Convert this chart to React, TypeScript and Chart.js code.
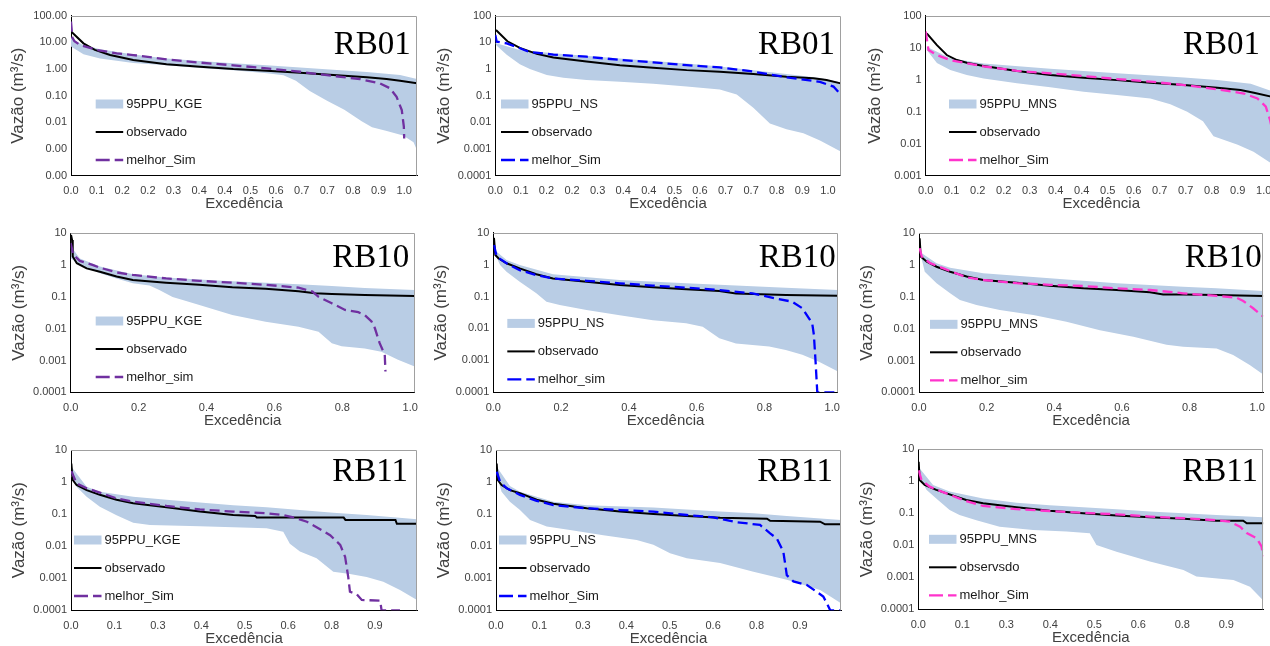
import React, { useEffect, useRef } from 'react';
import { Chart, registerables } from 'chart.js';

Chart.register(...registerables);
Chart.defaults.font.family = '"Liberation Sans", Arial, sans-serif';

type P = [number, number];

// ---------------- RB01 ----------------
const rb01KgeObs: P[] = [[0.001,25],[0.036,9.2],[0.069,5.2],[0.113,3.35],[0.18,2.2],[0.276,1.5],[0.373,1.23],[0.469,1.0],[0.566,0.87],[0.662,0.73],[0.758,0.6],[0.855,0.49],[0.912,0.42],[0.951,0.36],[1.0,0.29]];
const rb01KgeSim: P[] = [[0,60],[0.004,15],[0.01,11],[0.026,8],[0.074,5.2],[0.132,3.9],[0.18,3.35],[0.276,2.3],[0.373,1.74],[0.469,1.38],[0.566,1.06],[0.662,0.79],[0.758,0.55],[0.835,0.42],[0.893,0.29],[0.922,0.19],[0.941,0.09],[0.956,0.029],[0.962,0.0069],[0.963,0.0025]];
const rb01KgeUp: P[] = [[0,15],[0.03,8.5],[0.084,5.5],[0.18,3.5],[0.276,2.5],[0.373,2.0],[0.469,1.65],[0.566,1.4],[0.662,1.15],[0.758,0.95],[0.855,0.78],[0.951,0.6],[1.0,0.42]];
const rb01KgeLo: P[] = [[0,7],[0.036,3.6],[0.084,2.5],[0.18,1.7],[0.276,1.4],[0.373,1.1],[0.469,0.9],[0.566,0.69],[0.614,0.58],[0.65,0.36],[0.69,0.15],[0.74,0.065],[0.79,0.03],[0.84,0.011],[0.87,0.0065],[0.91,0.0048],[0.96,0.0032],[0.99,0.0018],[1.0,0.0009]];

const rb01NsObs: P[] = [[0.002,29],[0.035,11],[0.071,6.2],[0.12,3.7],[0.168,2.7],[0.264,1.9],[0.361,1.4],[0.457,1.12],[0.554,0.91],[0.65,0.79],[0.747,0.65],[0.843,0.51],[0.921,0.45],[0.959,0.39],[1.0,0.29]];
const rb01NsSim: P[] = [[0,19],[0.004,10.6],[0.033,9.2],[0.071,6],[0.1,4.3],[0.168,3.5],[0.264,2.9],[0.361,2.2],[0.457,1.78],[0.554,1.4],[0.65,1.15],[0.747,0.8],[0.843,0.49],[0.94,0.33],[0.979,0.22],[1.0,0.11]];
const rb01NsUp: P[] = [[0,9.5],[0.071,5.2],[0.168,3.9],[0.361,2.5],[0.554,1.6],[0.65,1.25],[0.747,0.9],[0.843,0.65],[0.94,0.46],[1.0,0.31]];
const rb01NsLo: P[] = [[0.002,7.9],[0.033,3.4],[0.071,1.5],[0.1,1.0],[0.149,0.6],[0.197,0.47],[0.264,0.39],[0.361,0.33],[0.457,0.28],[0.554,0.22],[0.65,0.17],[0.699,0.11],[0.747,0.035],[0.795,0.009],[0.843,0.0055],[0.892,0.0039],[0.94,0.0021],[1.0,0.0008]];

const rb01MnsObs: P[] = [[0.003,28],[0.032,12],[0.06,5.9],[0.089,4.1],[0.117,3.4],[0.165,2.7],[0.26,1.87],[0.355,1.4],[0.45,1.15],[0.545,0.97],[0.64,0.81],[0.736,0.68],[0.831,0.56],[0.897,0.48],[0.935,0.39],[1.0,0.27]];
const rb01MnsSim: P[] = [[0,32],[0.008,8.5],[0.032,5.9],[0.07,4.1],[0.165,2.6],[0.26,1.9],[0.355,1.58],[0.45,1.3],[0.545,1.05],[0.64,0.87],[0.736,0.68],[0.831,0.5],[0.907,0.37],[0.945,0.26],[0.969,0.144],[0.981,0.055],[0.99,0.02]];
const rb01MnsUp: P[] = [[0.003,10.8],[0.07,4.7],[0.165,3.2],[0.355,2.2],[0.545,1.58],[0.736,1.17],[0.831,0.97],[0.926,0.75],[0.983,0.45],[1.0,0.42]];
const rb01MnsLo: P[] = [[0.003,8.5],[0.032,3.3],[0.07,2.0],[0.117,1.4],[0.165,1.1],[0.26,0.77],[0.355,0.58],[0.45,0.42],[0.545,0.33],[0.64,0.26],[0.697,0.17],[0.745,0.1],[0.79,0.05],[0.82,0.017],[0.889,0.0092],[0.934,0.0056],[0.983,0.0025],[1.0,0.0015]];

// ---------------- RB10 ----------------
const rb10KgeObs: P[] = [[0.001,8.9],[0.004,6.2],[0.006,1.86],[0.018,1.15],[0.047,0.79],[0.086,0.62],[0.135,0.44],[0.183,0.34],[0.281,0.28],[0.379,0.24],[0.476,0.2],[0.574,0.18],[0.671,0.15],[0.72,0.13],[0.769,0.123],[0.866,0.114],[1.013,0.107]];
const rb10KgeSim: P[] = [[0,4.9],[0.008,2.1],[0.027,1.35],[0.066,1.0],[0.086,0.83],[0.135,0.59],[0.183,0.49],[0.281,0.38],[0.379,0.32],[0.476,0.28],[0.574,0.24],[0.671,0.195],[0.712,0.147],[0.73,0.1],[0.769,0.063],[0.808,0.039],[0.847,0.033],[0.866,0.027],[0.886,0.017],[0.896,0.0103],[0.91,0.0035],[0.925,0.0015],[0.927,0.00045]];
const rb10KgeUp: P[] = [[0,4],[0.027,1.6],[0.086,0.9],[0.183,0.52],[0.281,0.41],[0.379,0.35],[0.476,0.31],[0.574,0.28],[0.671,0.25],[0.769,0.22],[0.866,0.19],[1.013,0.165]];
const rb10KgeLo: P[] = [[0.001,1.6],[0.027,1.0],[0.086,0.55],[0.135,0.38],[0.183,0.27],[0.232,0.23],[0.261,0.166],[0.3,0.1],[0.33,0.08],[0.379,0.056],[0.476,0.027],[0.574,0.0166],[0.671,0.0116],[0.73,0.008],[0.769,0.0035],[0.798,0.0028],[0.866,0.0024],[0.915,0.0019],[0.964,0.00105],[1.013,0.00065]];

const rb10NsObs: P[] = [[0.002,6.9],[0.006,2.0],[0.015,1.58],[0.039,1.1],[0.078,0.76],[0.127,0.5],[0.176,0.37],[0.275,0.29],[0.373,0.23],[0.471,0.194],[0.569,0.168],[0.667,0.148],[0.716,0.125],[0.765,0.12],[0.863,0.112],[1.017,0.105]];
const rb10NsSim: P[] = [[0.002,4.1],[0.01,1.78],[0.039,1.1],[0.078,0.67],[0.127,0.47],[0.176,0.37],[0.275,0.31],[0.373,0.26],[0.471,0.22],[0.569,0.19],[0.667,0.16],[0.765,0.126],[0.833,0.087],[0.882,0.069],[0.912,0.043],[0.931,0.021],[0.941,0.0146],[0.946,0.0063],[0.951,0.0009],[0.956,0.0001],[1.017,0.0001]];
const rb10NsUp: P[] = [[0.002,3],[0.039,1.4],[0.078,0.97],[0.176,0.5],[0.373,0.33],[0.569,0.26],[0.765,0.21],[0.863,0.19],[1.017,0.16]];
const rb10NsLo: P[] = [[0.002,2.5],[0.02,0.98],[0.039,0.6],[0.078,0.29],[0.127,0.126],[0.157,0.069],[0.196,0.054],[0.275,0.038],[0.373,0.026],[0.471,0.018],[0.569,0.0145],[0.618,0.0114],[0.667,0.0049],[0.716,0.0034],[0.814,0.0027],[0.863,0.0021],[0.912,0.0015],[0.961,0.0009],[1.017,0.00045]];

const rb10MnsObs: P[] = [[0.002,6.9],[0.005,1.86],[0.023,1.28],[0.052,0.89],[0.092,0.62],[0.141,0.44],[0.19,0.34],[0.289,0.28],[0.387,0.226],[0.486,0.186],[0.584,0.165],[0.683,0.14],[0.722,0.12],[0.781,0.12],[0.88,0.114],[1.018,0.107]];
const rb10MnsSim: P[] = [[0.002,3.4],[0.008,1.86],[0.033,1.15],[0.072,0.79],[0.141,0.41],[0.19,0.34],[0.289,0.27],[0.387,0.24],[0.486,0.22],[0.584,0.186],[0.683,0.165],[0.781,0.13],[0.88,0.107],[0.939,0.095],[0.959,0.074],[0.988,0.044],[1.018,0.024]];
const rb10MnsUp: P[] = [[0.005,2.5],[0.052,1.15],[0.092,0.83],[0.19,0.55],[0.387,0.385],[0.584,0.27],[0.781,0.21],[0.88,0.186],[1.018,0.153]];
const rb10MnsLo: P[] = [[0.005,2.1],[0.017,0.62],[0.052,0.27],[0.092,0.13],[0.121,0.08],[0.17,0.056],[0.239,0.039],[0.338,0.027],[0.436,0.0166],[0.535,0.009],[0.634,0.0056],[0.732,0.0031],[0.781,0.0027],[0.88,0.0024],[0.929,0.0015],[0.978,0.00072],[1.018,0.00036]];

// ---------------- RB11 ----------------
const rb11KgeObs: P[] = [[0.001,3.8],[0.005,1.16],[0.016,0.81],[0.045,0.56],[0.083,0.4],[0.131,0.28],[0.179,0.22],[0.275,0.163],[0.371,0.12],[0.467,0.094],[0.53,0.088],[0.535,0.078],[0.785,0.078],[0.79,0.066],[0.934,0.066],[0.938,0.05],[0.996,0.05]];
const rb11KgeSim: P[] = [[0.001,2.2],[0.016,0.91],[0.045,0.64],[0.083,0.47],[0.131,0.31],[0.179,0.245],[0.275,0.18],[0.371,0.14],[0.467,0.12],[0.563,0.106],[0.611,0.093],[0.64,0.079],[0.679,0.058],[0.717,0.034],[0.746,0.022],[0.775,0.011],[0.789,0.0047],[0.798,0.0011],[0.803,0.00038],[0.822,0.00032],[0.837,0.00021],[0.89,0.0002],[0.894,0.0001],[0.947,0.0001]];
const rb11KgeUp: P[] = [[0.001,3],[0.045,0.72],[0.083,0.5],[0.179,0.35],[0.275,0.28],[0.371,0.23],[0.467,0.19],[0.563,0.163],[0.659,0.135],[0.755,0.11],[0.851,0.094],[0.996,0.069]];
const rb11KgeLo: P[] = [[0.001,1.48],[0.016,0.72],[0.045,0.35],[0.083,0.17],[0.131,0.093],[0.179,0.054],[0.227,0.046],[0.371,0.042],[0.563,0.036],[0.611,0.028],[0.63,0.012],[0.659,0.0068],[0.707,0.0042],[0.755,0.0016],[0.803,0.00135],[0.851,0.0011],[0.899,0.00078],[0.947,0.00043],[0.996,0.00021]];

const rb11NsObs: P[] = [[0.002,3.8],[0.005,1.16],[0.016,0.81],[0.04,0.56],[0.069,0.45],[0.117,0.28],[0.165,0.21],[0.261,0.152],[0.357,0.12],[0.453,0.1],[0.549,0.087],[0.645,0.077],[0.78,0.072],[0.789,0.062],[0.933,0.058],[0.947,0.048],[0.993,0.048]];
const rb11NsSim: P[] = [[0.002,2.1],[0.012,1.0],[0.031,0.64],[0.069,0.4],[0.117,0.26],[0.165,0.19],[0.261,0.152],[0.357,0.134],[0.453,0.12],[0.549,0.094],[0.626,0.079],[0.693,0.056],[0.76,0.046],[0.789,0.025],[0.808,0.0176],[0.827,0.0068],[0.837,0.00125],[0.856,0.0008],[0.894,0.00062],[0.923,0.00038],[0.942,0.00027],[0.952,0.000166],[0.962,0.0001],[0.993,0.0001]];
const rb11NsUp: P[] = [[0.002,3],[0.04,0.75],[0.069,0.5],[0.165,0.245],[0.261,0.19],[0.453,0.16],[0.645,0.12],[0.741,0.106],[0.837,0.088],[0.993,0.066]];
const rb11NsLo: P[] = [[0.002,1.66],[0.016,0.5],[0.04,0.245],[0.069,0.134],[0.098,0.066],[0.146,0.041],[0.213,0.032],[0.309,0.022],[0.405,0.0155],[0.453,0.011],[0.501,0.006],[0.549,0.0042],[0.645,0.003],[0.741,0.0016],[0.837,0.0009],[0.933,0.00043],[0.993,0.000166]];

const rb11MnsObs: P[] = [[0.001,4.1],[0.004,1.1],[0.018,0.77],[0.051,0.54],[0.089,0.39],[0.136,0.26],[0.184,0.205],[0.279,0.155],[0.373,0.12],[0.468,0.1],[0.563,0.085],[0.658,0.075],[0.753,0.068],[0.847,0.059],[0.923,0.059],[0.933,0.049],[0.98,0.049]];
const rb11MnsSim: P[] = [[0.001,2.2],[0.009,1.1],[0.032,0.68],[0.07,0.46],[0.136,0.24],[0.184,0.17],[0.279,0.135],[0.373,0.118],[0.468,0.104],[0.563,0.093],[0.658,0.079],[0.753,0.07],[0.847,0.061],[0.885,0.055],[0.914,0.038],[0.933,0.024],[0.961,0.0166],[0.975,0.0092],[0.98,0.0045]];
const rb11MnsUp: P[] = [[0.004,2.5],[0.042,0.77],[0.089,0.48],[0.184,0.29],[0.279,0.215],[0.373,0.18],[0.468,0.155],[0.563,0.134],[0.658,0.113],[0.753,0.1],[0.847,0.089],[0.98,0.075]];
const rb11MnsLo: P[] = [[0.004,1.4],[0.023,0.54],[0.051,0.29],[0.089,0.126],[0.117,0.089],[0.165,0.061],[0.231,0.038],[0.326,0.03],[0.421,0.027],[0.487,0.024],[0.506,0.0102],[0.563,0.0063],[0.658,0.0031],[0.753,0.0017],[0.79,0.00105],[0.895,0.00083],[0.942,0.00051],[0.98,0.00019]];

// ---------------- ticks ----------------
const yTicks100to4 = [100, 10, 1, 0.1, 0.01, 0.001, 0.0001];
const yLabelsRb01Kge = ['100.00', '10.00', '1.00', '0.10', '0.01', '0.00', '0.00'];
const yLabelsRb01Ns = ['100', '10', '1', '0.1', '0.01', '0.001', '0.0001'];
const yTicks100to3 = [100, 10, 1, 0.1, 0.01, 0.001];
const yLabelsRb01Mns = ['100', '10', '1', '0.1', '0.01', '0.001'];
const yTicks10to4 = [10, 1, 0.1, 0.01, 0.001, 0.0001];
const yLabels10to4 = ['10', '1', '0.1', '0.01', '0.001', '0.0001'];

const xLabelsRow1 = ['0.0', '0.1', '0.2', '0.2', '0.3', '0.4', '0.4', '0.5', '0.6', '0.7', '0.7', '0.8', '0.9', '1.0'];
const xLabelsRow2 = ['0.0', '0.2', '0.4', '0.6', '0.8', '1.0'];
const xLabelsRow3 = ['0.0', '0.1', '0.3', '0.4', '0.5', '0.6', '0.8', '0.9'];
const xStepRow1 = 1 / 13.5;
const xStepRow2 = 0.2;
const xStepRow3 = 0.125;

const BAND = '#B9CDE5';
const OBS = '#000000';
const KGE = '#7030A0';
const NS = '#0000FF';
const MNS = '#FF33CC';
const TXT = '#404040';

interface PanelCfg {
  title: string;
  labels: [string, string, string];
  up: P[]; lo: P[]; obs: P[]; sim: P[]; simColor: string;
  yTicks: number[]; yLabels: string[];
  xLabels: string[]; xStep: number; xMax: number;
  plot: [number, number, number, number];
  yTitleX: number; xTitleY: number;
  legendDx: number; legendDy: number;
  titleDx: number; titleDy: number;
}

const panels: PanelCfg[] = [
  { title: 'RB01', labels: ['95PPU_KGE', 'observado', 'melhor_Sim'], up: rb01KgeUp, lo: rb01KgeLo, obs: rb01KgeObs, sim: rb01KgeSim, simColor: KGE,
    yTicks: yTicks100to4, yLabels: yLabelsRb01Kge, xLabels: xLabelsRow1, xStep: xStepRow1, xMax: 1.0,
    plot: [71, 15.7, 417, 175.7], yTitleX: 18.3, xTitleY: 204, legendDx: 24.7, legendDy: 88.3, titleDx: -6.3, titleDy: 38.6 },
  { title: 'RB01', labels: ['95PPU_NS', 'observado', 'melhor_Sim'], up: rb01NsUp, lo: rb01NsLo, obs: rb01NsObs, sim: rb01NsSim, simColor: NS,
    yTicks: yTicks100to4, yLabels: yLabelsRb01Ns, xLabels: xLabelsRow1, xStep: xStepRow1, xMax: 1.0,
    plot: [495.3, 15.7, 840.7, 175.7], yTitleX: 444, xTitleY: 204, legendDx: 5.7, legendDy: 88.3, titleDx: -5.7, titleDy: 38.6 },
  { title: 'RB01', labels: ['95PPU_MNS', 'observado', 'melhor_Sim'], up: rb01MnsUp, lo: rb01MnsLo, obs: rb01MnsObs, sim: rb01MnsSim, simColor: MNS,
    yTicks: yTicks100to3, yLabels: yLabelsRb01Mns, xLabels: xLabelsRow1, xStep: xStepRow1, xMax: 1.0,
    plot: [925.7, 15.7, 1276.7, 175.7], yTitleX: 875.7, xTitleY: 204, legendDx: 23.3, legendDy: 88.3, titleDx: -16.7, titleDy: 38.6 },
  { title: 'RB10', labels: ['95PPU_KGE', 'observado', 'melhor_sim'], up: rb10KgeUp, lo: rb10KgeLo, obs: rb10KgeObs, sim: rb10KgeSim, simColor: KGE,
    yTicks: yTicks10to4, yLabels: yLabels10to4, xLabels: xLabelsRow2, xStep: xStepRow2, xMax: 1.013,
    plot: [70.7, 233.3, 417, 392.3], yTitleX: 19, xTitleY: 420.7, legendDx: 25, legendDy: 87.7, titleDx: -5.3, titleDy: 34 },
  { title: 'RB10', labels: ['95PPU_NS', 'observado', 'melhor_sim'], up: rb10NsUp, lo: rb10NsLo, obs: rb10NsObs, sim: rb10NsSim, simColor: NS,
    yTicks: yTicks10to4, yLabels: yLabels10to4, xLabels: xLabelsRow2, xStep: xStepRow2, xMax: 1.017,
    plot: [493.3, 232.7, 839, 392.3], yTitleX: 441.3, xTitleY: 420.7, legendDx: 14, legendDy: 90.7, titleDx: -2.3, titleDy: 34.6 },
  { title: 'RB10', labels: ['95PPU_MNS', 'observado', 'melhor_sim'], up: rb10MnsUp, lo: rb10MnsLo, obs: rb10MnsObs, sim: rb10MnsSim, simColor: MNS,
    yTicks: yTicks10to4, yLabels: yLabels10to4, xLabels: xLabelsRow2, xStep: xStepRow2, xMax: 1.018,
    plot: [919, 233.3, 1263.3, 392.3], yTitleX: 867.3, xTitleY: 420.7, legendDx: 11, legendDy: 91, titleDx: -1.6, titleDy: 34 },
  { title: 'RB11', labels: ['95PPU_KGE', 'observado', 'melhor_Sim'], up: rb11KgeUp, lo: rb11KgeLo, obs: rb11KgeObs, sim: rb11KgeSim, simColor: KGE,
    yTicks: yTicks10to4, yLabels: yLabels10to4, xLabels: xLabelsRow3, xStep: xStepRow3, xMax: 0.996,
    plot: [71, 450, 417, 610.3], yTitleX: 19.5, xTitleY: 639.3, legendDx: 3, legendDy: 90, titleDx: -9, titleDy: 30.7 },
  { title: 'RB11', labels: ['95PPU_NS', 'observado', 'melhor_Sim'], up: rb11NsUp, lo: rb11NsLo, obs: rb11NsObs, sim: rb11NsSim, simColor: NS,
    yTicks: yTicks10to4, yLabels: yLabels10to4, xLabels: xLabelsRow3, xStep: xStepRow3, xMax: 0.993,
    plot: [496, 450, 841, 610.3], yTitleX: 444, xTitleY: 639.3, legendDx: 3, legendDy: 90, titleDx: -8, titleDy: 30.7 },
  { title: 'RB11', labels: ['95PPU_MNS', 'observsdo', 'melhor_Sim'], up: rb11MnsUp, lo: rb11MnsLo, obs: rb11MnsObs, sim: rb11MnsSim, simColor: MNS,
    yTicks: yTicks10to4, yLabels: yLabels10to4, xLabels: xLabelsRow3, xStep: xStepRow3, xMax: 0.98,
    plot: [918.3, 449.3, 1263.3, 609.3], yTitleX: 867.3, xTitleY: 638.3, legendDx: 10.7, legendDy: 90, titleDx: -5.3, titleDy: 31.4 },
];

const Y_TITLE = 17;
const X_TITLE = 15;
const TICK = 11;
const toXY = (pts: P[]) => pts.map(([x, y]) => ({ x, y }));

function Panel({ cfg }: { cfg: PanelCfg }) {
  const ref = useRef<HTMLCanvasElement>(null);
  const [l, t, r, b] = cfg.plot;
  const cLeft = Math.floor(cfg.yTitleX - Y_TITLE * 0.6);
  const cTop = Math.floor(t - 14);
  const cW = Math.ceil(r + 10 - cLeft);
  const cH = Math.ceil(cfg.xTitleY + X_TITLE * 0.6 - cTop);

  useEffect(() => {
    const yAxisW = l - cLeft;
    const padTop = t - cTop;
    const padRight = cW - (r - cLeft);
    const xAxisH = cH - (b - cTop);
    const yTitlePad = cfg.yTitleX - Y_TITLE * 0.6 - cLeft;
    const xTitlePad = cH - X_TITLE * 0.6 - (cfg.xTitleY - cTop);

    const decor = {
      id: 'decor',
      afterDraw(chart: any) {
        const { ctx, chartArea: a } = chart;
        ctx.save();
        // plot-area frame (top/right)
        ctx.strokeStyle = '#A0A0A0';
        ctx.lineWidth = 1;
        ctx.beginPath();
        ctx.moveTo(a.left, Math.round(a.top) + 0.5);
        ctx.lineTo(Math.round(a.right) - 0.5, Math.round(a.top) + 0.5);
        ctx.lineTo(Math.round(a.right) - 0.5, a.bottom);
        ctx.stroke();
        // station title
        ctx.fillStyle = '#000';
        ctx.font = '33px "Liberation Serif", "Times New Roman", serif';
        ctx.textAlign = 'right';
        ctx.textBaseline = 'alphabetic';
        ctx.fillText(cfg.title, a.right + cfg.titleDx, a.top + cfg.titleDy);
        // legend
        const ds = chart.data.datasets;
        const x0 = a.left + cfg.legendDx;
        const sw = 27.5;
        ctx.font = '13px "Liberation Sans", Arial, sans-serif';
        ctx.textAlign = 'left';
        ctx.textBaseline = 'middle';
        for (let i = 0; i < 3; i++) {
          const y = a.top + cfg.legendDy + i * 28;
          const d = ds[i];
          if (i === 0) {
            ctx.fillStyle = d.backgroundColor;
            ctx.fillRect(x0, y - 4.5, sw, 9);
          } else {
            ctx.strokeStyle = d.borderColor;
            ctx.lineWidth = d.borderWidth;
            ctx.setLineDash(i === 2 ? [14, 5] : []);
            ctx.beginPath();
            ctx.moveTo(x0, y);
            ctx.lineTo(x0 + sw, y);
            ctx.stroke();
            ctx.setLineDash([]);
          }
          ctx.fillStyle = '#1a1a1a';
          ctx.fillText(d.label, x0 + sw + 3, y + 0.5);
        }
        ctx.restore();
      },
    };

    const chart = new Chart(ref.current!, {
      type: 'line',
      data: {
        datasets: [
          { label: cfg.labels[0], data: toXY([...cfg.up, ...cfg.lo.slice().reverse()]), fill: 'shape', backgroundColor: BAND,
            borderColor: 'rgba(0,0,0,0)', borderWidth: 0, pointRadius: 0, tension: 0, order: 2 } as any,
          { label: cfg.labels[1], data: toXY(cfg.obs), borderColor: OBS, borderWidth: 2, pointRadius: 0, fill: false, tension: 0, order: 1 },
          { label: cfg.labels[2], data: toXY(cfg.sim), borderColor: cfg.simColor, borderWidth: 2.3, borderDash: [10, 5], pointRadius: 0,
            fill: false, tension: 0, order: 0 },
        ],
      },
      options: {
        responsive: false,
        animation: false,
        devicePixelRatio: 1,
        layout: { padding: { left: 0, top: padTop, right: padRight, bottom: 0 } },
        plugins: { legend: { display: false }, tooltip: { enabled: false } },
        scales: {
          x: {
            type: 'linear', min: 0, max: cfg.xMax,
            grid: { display: false, drawTicks: false },
            border: { display: true, color: '#000', width: 1 },
            ticks: { autoSkip: false, maxRotation: 0, padding: 9, color: TXT, font: { size: TICK },
              callback: (_v: any, i: number) => cfg.xLabels[i] ?? '' },
            afterBuildTicks: (s: any) => { s.ticks = cfg.xLabels.map((_, i) => ({ value: i * cfg.xStep })); },
            afterFit: (s: any) => { s.height = xAxisH; },
            title: { display: true, text: 'Excedência', color: TXT, font: { size: X_TITLE }, padding: { top: 0, bottom: xTitlePad } },
          },
          y: {
            type: 'logarithmic', min: cfg.yTicks[cfg.yTicks.length - 1], max: cfg.yTicks[0],
            grid: { display: false, drawTicks: false },
            border: { display: true, color: '#000', width: 1 },
            ticks: { autoSkip: false, padding: 4, color: TXT, font: { size: TICK },
              callback: (_v: any, i: number) => cfg.yLabels[i] ?? '' },
            afterBuildTicks: (s: any) => { s.ticks = cfg.yTicks.map((v) => ({ value: v })); },
            afterFit: (s: any) => { s.width = yAxisW; },
            title: { display: true, text: 'Vazão (m³/s)', color: TXT, font: { size: Y_TITLE }, padding: { top: yTitlePad, bottom: 0 } },
          },
        },
      } as any,
      plugins: [decor],
    });
    return () => chart.destroy();
  }, []);

  return (
    <canvas
      ref={ref}
      width={cW}
      height={cH}
      style={{ position: 'absolute', left: cLeft, top: cTop, width: cW, height: cH }}
    />
  );
}

export default function App() {
  return (
    <div style={{ position: 'fixed', left: 0, top: 0, width: 1270, height: 646, overflow: 'hidden', background: '#fff' }}>
      {panels.map((p, i) => (
        <Panel key={i} cfg={p} />
      ))}
    </div>
  );
}
